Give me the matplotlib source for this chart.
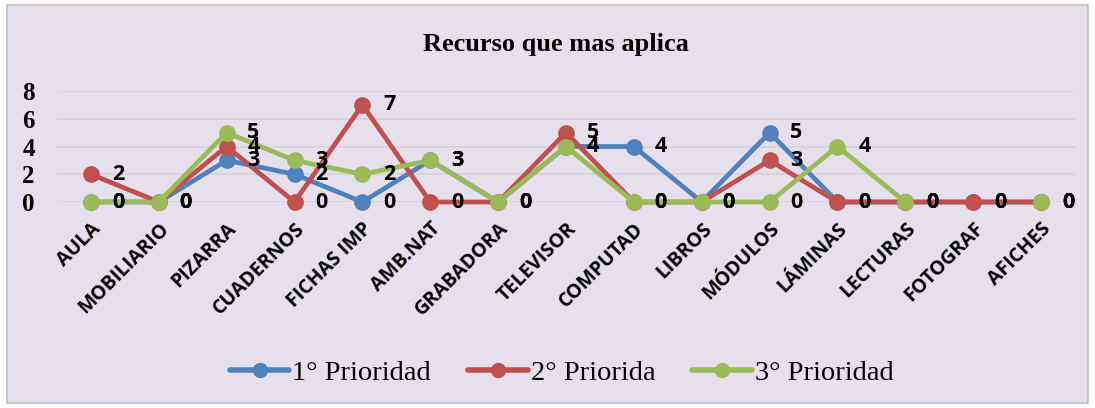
import matplotlib
matplotlib.use("Agg")
import matplotlib.pyplot as plt
import numpy as np
from matplotlib.patches import Rectangle

categories = ["AULA", "MOBILIARIO", "PIZARRA", "CUADERNOS", "FICHAS IMP", "AMB.NAT",
              "GRABADORA", "TELEVISOR", "COMPUTAD", "LIBROS", "MÓDULOS", "LÁMINAS",
              "LECTURAS", "FOTOGRAF", "AFICHES"]
prioridad_1 = [0, 0, 3, 2, 0, 3, 0, 4, 4, 0, 5, 0, 0, 0, 0]
prioridad_2 = [2, 0, 4, 0, 7, 0, 0, 5, 0, 0, 3, 0, 0, 0, 0]
prioridad_3 = [0, 0, 5, 3, 2, 3, 0, 4, 0, 0, 0, 4, 0, np.nan, 0]
series_names = ["1° Prioridad", "2° Priorida", "3° Prioridad"]
yticks = [0, 2, 4, 6, 8]

colors = ["#4F81BD", "#C0504D", "#9BBB59"]
bg = "#E6E0EC"

fig = plt.figure(figsize=(10.95, 4.08), dpi=100, facecolor="white")
fig.patches.append(Rectangle((0.006, 0.012), 0.988, 0.976, transform=fig.transFigure,
                             facecolor=bg, edgecolor="#BFBFBF", linewidth=1.2, zorder=-10))

ax = fig.add_axes([57/1095, 1 - 202/408, (1075-57)/1095, (202-91)/408])
ax.set_facecolor("none")
x = np.arange(len(categories))

for vals, c, name in zip([prioridad_1, prioridad_2, prioridad_3], colors, series_names):
    v = np.array(vals, dtype=float)
    ax.plot(x, v, color=c, lw=3.4, marker="o", markersize=11, label=name,
            clip_on=False, zorder=3, solid_capstyle="round")
    for xi, vi in zip(x, v):
        if np.isnan(vi):
            continue
        ax.annotate(f"{int(vi)}", (xi, vi), xytext=(15, 0), textcoords="offset points",
                    ha="left", va="center", fontsize=15.5, fontweight="bold",
                    family="Open Sans", color="black", zorder=5, annotation_clip=False)

ax.set_xlim(-0.5, len(categories) - 0.5)
ax.set_ylim(0, 8)
ax.set_yticks(yticks)
ax.set_yticklabels([str(t) for t in yticks], fontsize=18, fontweight="bold",
                   family="Liberation Serif")
ax.yaxis.grid(True, color="#D6D1DA", lw=1.2)
ax.set_axisbelow(True)
ax.tick_params(axis="both", length=0)
ax.tick_params(axis="y", pad=16)
ax.set_xticks(x)
ax.set_xticklabels(categories, rotation=45, ha="right", va="top", rotation_mode="anchor",
                   fontsize=14, fontweight="bold", family="Open Sans")
ax.tick_params(axis="x", pad=12)
for s in ax.spines.values():
    s.set_visible(False)

fig.text(556/1095, 1 - 45/408, "Recurso que mas aplica", ha="center", va="center",
         fontsize=19, fontweight="bold", family="Liberation Serif")

leg = fig.legend(loc="center", bbox_to_anchor=(0.513, 1 - 373/408), ncol=3, frameon=False,
                 prop={"family": "Liberation Serif", "size": 20.5}, handlelength=2.1,
                 columnspacing=1.3, handletextpad=0.1)
for h in leg.legend_handles:
    h.set_markersize(10)
    h.set_linewidth(4)

fig.savefig("out.png", dpi=100, facecolor="white")
